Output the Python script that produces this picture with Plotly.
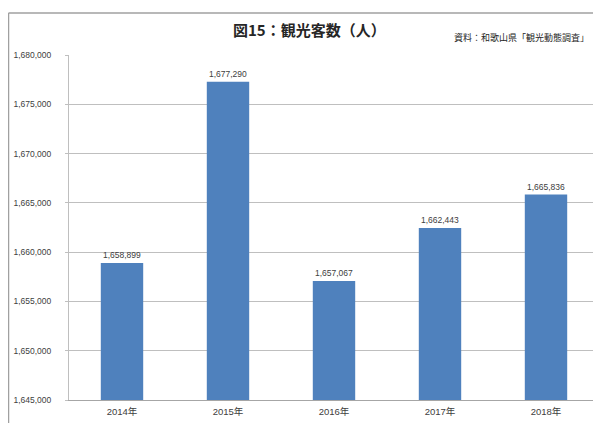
import plotly.graph_objects as go

years = ["2014年", "2015年", "2016年", "2017年", "2018年"]
visitors = [1658899, 1677290, 1657067, 1662443, 1665836]
y_ticks = [1645000, 1650000, 1655000, 1660000, 1665000, 1670000, 1675000, 1680000]
y_tick_labels = [f"{v:,}" for v in y_ticks]

# page body has an 8px margin, so figure coords = screen coords - 8
OFF = 8
W, H = 601 - OFF, 423 - OFF
L, R, T, B = 69 - OFF, 2, 55 - OFF, 23
pw, ph = W - L - R, H - T - B

def px(x):
    return (x - OFF - L) / pw

def py(y):
    return (H - B - (y - OFF)) / ph

fig = go.Figure()
fig.add_trace(go.Bar(
    x=years, y=visitors,
    marker=dict(color="#4f81bd", line=dict(width=0)),
    width=0.4,
    text=[f"{v:,}" for v in visitors],
    textposition="outside",
    textfont=dict(family="Liberation Sans, Noto Sans CJK JP", size=8.5, color="#404040"),
    cliponaxis=False,
))

fig.update_layout(
    width=W, height=H,
    margin=dict(l=L, r=R, t=T, b=B),
    paper_bgcolor="white", plot_bgcolor="white",
    showlegend=False,
    font=dict(family="Liberation Sans, Noto Sans CJK JP", size=9, color="#404040"),
    xaxis=dict(
        showline=True, linecolor="#a6a6a6", linewidth=1,
        ticks="", tickfont=dict(size=9.5, color="#404040"),
        ticklabelstandoff=3,
        showgrid=False,
    ),
    yaxis=dict(
        range=[1645000, 1680000],
        tickvals=y_ticks, ticktext=y_tick_labels,
        showgrid=True, gridcolor="#bfbfbf", gridwidth=1,
        showline=True, linecolor="#bfbfbf", linewidth=1,
        ticks="outside", ticklen=3, tickcolor="#bfbfbf",
        ticklabelstandoff=12,
        tickfont=dict(size=8.5, color="#404040"),
        zeroline=False,
    ),
    annotations=[
        dict(text="<b>図15：観光客数（人）</b>", xref="paper", yref="paper",
             x=px(309), y=py(30), xanchor="center", yanchor="middle",
             showarrow=False,
             font=dict(family="Noto Sans CJK JP", size=15, color="#262626")),
        dict(text="資料：和歌山県「観光動態調査」", xref="paper", yref="paper",
             x=px(591), y=py(38), xanchor="right", yanchor="middle",
             showarrow=False,
             font=dict(family="Noto Sans CJK JP", size=9, color="#262626")),
    ],
    shapes=[
        dict(type="line", xref="paper", yref="paper",
             x0=px(8.5), x1=px(602), y0=py(13), y1=py(13),
             line=dict(color="#a0a0a0", width=1.5)),
        dict(type="line", xref="paper", yref="paper",
             x0=px(8.5), x1=px(8.5), y0=py(13), y1=py(424),
             line=dict(color="#a0a0a0", width=1.5)),
    ],
)

fig.write_html("out.html")
